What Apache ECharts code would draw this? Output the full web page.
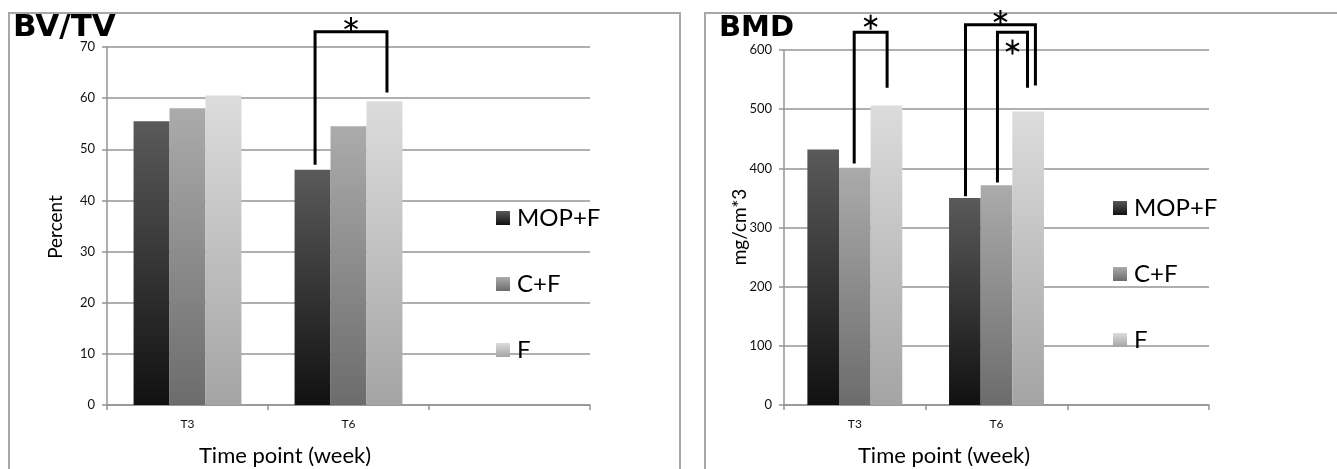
<!DOCTYPE html>
<html>
<head>
<meta charset="utf-8">
<script src="https://cdn.jsdelivr.net/npm/echarts@6/dist/echarts.min.js"></script>
<style>
html,body{margin:0;padding:0;background:#fff;}
#chart{width:1337px;height:469px;}
</style>
</head>
<body>
<div id="chart"></div>
<script>
// ---- data ----
const categories = ['T3', 'T6', ''];
const groupNames = ['MOP+F', 'C+F', 'F'];
const bvtvMOPF = [55.5, 46.0];
const bvtvCF = [58.0, 54.5];
const bvtvF = [60.5, 59.4];
const bmdMOPF = [432, 350];
const bmdCF = [401, 371.5];
const bmdF = [506, 496];
const bvtvTicks = [0, 70, 10];
const bmdTicks = [0, 600, 100];
// brackets: [category, left bar index, right bar index, left foot value, right foot value, top value, star value]
const bvtvBrackets = [[1, 0.07, 2.07, 47, 61.1, 73, 74.4]];
const bmdBrackets = [
  [0, 0.98, 2.02, 408, 536, 630, 647],
  [1, 0.02, 2.23, 353, 540, 642.5, 655],
  [1, 1.03, 1.98, 376, 536, 630, 605]
];

// ---- styling ----
const GAP = 0.33;
const FONT = 'Lato, "Open Sans", sans-serif';
function grad(top, bottom) {
  return {type: 'linear', x: 0, y: 0, x2: 0, y2: 1,
    colorStops: [{offset: 0, color: top}, {offset: 1, color: bottom}]};
}
const colors = [grad('#5a5a5a', '#111111'), grad('#ababab', '#6c6c6c'), grad('#dcdcdc', '#a4a4a4')];

function bracketRender(params, api) {
  const cat = api.value(0);
  const c = api.coord([cat, 0]);
  const catW = api.size([1, 0])[0];
  const bw = catW * (1 - GAP) / 3;
  const xL = c[0] + (api.value(1) - 1) * bw;
  const xR = c[0] + (api.value(2) - 1) * bw;
  const yL = api.coord([cat, api.value(3)])[1];
  const yR = api.coord([cat, api.value(4)])[1];
  const yT = api.coord([cat, api.value(5)])[1];
  const sy = api.coord([cat, api.value(6)])[1];
  const sx = (xL + xR) / 2;
  const r = 7.5;
  const starLines = [90, 30, 150].map(function (deg) {
    const a = deg * Math.PI / 180;
    return {type: 'line', shape: {x1: sx - r * Math.cos(a), y1: sy - r * Math.sin(a), x2: sx + r * Math.cos(a), y2: sy + r * Math.sin(a)},
      style: {stroke: '#000', lineWidth: 2}};
  });
  return {type: 'group', children: [
    {type: 'polyline', shape: {points: [[xL, yL], [xL, yT], [xR, yT], [xR, yR]]},
     style: {stroke: '#000', lineWidth: 3, fill: null, lineJoin: 'miter'}}
  ].concat(starLines)};
}

function xAxisCfg(gi) {
  return {type: 'category', gridIndex: gi, data: categories, boundaryGap: true,
    axisLine: {show: true, lineStyle: {color: '#949494', width: 1.5}},
    axisTick: {show: true, length: 5, alignWithLabel: false, lineStyle: {color: '#949494', width: 1.5}},
    axisLabel: {margin: 13, fontSize: 12, color: '#111', fontFamily: FONT},
    splitLine: {show: false}};
}
function yAxisCfg(gi, t) {
  return {type: 'value', gridIndex: gi, min: t[0], max: t[1], interval: t[2],
    axisLine: {show: true, lineStyle: {color: '#949494', width: 1.5}},
    axisTick: {show: true, length: 5, lineStyle: {color: '#949494', width: 1.5}},
    axisLabel: {margin: 12, fontSize: 13, color: '#111', fontFamily: FONT},
    splitLine: {show: true, lineStyle: {color: '#949494', width: 1.5}}};
}
function barSeries(name, data, gi, idx) {
  return {type: 'bar', name: name, data: data, xAxisIndex: gi, yAxisIndex: gi,
    barGap: '0%', barCategoryGap: (GAP * 100) + '%',
    itemStyle: {color: colors[idx]}, emphasis: {disabled: true}};
}
function legendCfg(left, top) {
  return {data: groupNames, orient: 'vertical', left: left, top: top, itemWidth: 14, itemHeight: 14,
    itemGap: 42, selectedMode: false, icon: 'rect',
    textStyle: {fontSize: 24, lineHeight: 24, color: '#000', fontFamily: FONT, padding: [0, 0, 0, 2]}};
}
function textG(text, x, y, size, opts) {
  return Object.assign({type: 'text', x: x, y: y, silent: true,
    style: {text: text, fill: '#000', font: (opts && opts.weight ? opts.weight + ' ' : '') + size + 'px ' + ((opts && opts.family) || FONT),
      align: (opts && opts.align) || 'center', verticalAlign: 'middle'}}, opts && opts.rotation ? {rotation: opts.rotation} : {});
}

const chart = echarts.init(document.getElementById('chart'), null, {renderer: 'canvas'});
chart.setOption({
  animation: false,
  backgroundColor: '#fff',
  grid: [
    {left: 107, top: 47, width: 483, height: 358},
    {left: 784, top: 50, width: 425, height: 355}
  ],
  xAxis: [xAxisCfg(0), xAxisCfg(1)],
  yAxis: [yAxisCfg(0, bvtvTicks), yAxisCfg(1, bmdTicks)],
  legend: [legendCfg(491, 201), legendCfg(1108, 191)],
  graphic: [
    {type: 'rect', silent: true, shape: {x: 9, y: 13, width: 671, height: 520}, style: {fill: null, stroke: '#a8a8a8', lineWidth: 2}},
    {type: 'rect', silent: true, shape: {x: 705, y: 13, width: 700, height: 520}, style: {fill: null, stroke: '#a8a8a8', lineWidth: 2}},
    textG('BV/TV', 13, 28, 31, {weight: 'bold', family: '"DejaVu Sans"', align: 'left'}),
    textG('BMD', 719, 28, 29, {weight: 'bold', family: '"DejaVu Sans"', align: 'left'}),
    textG('Percent', 56, 227, 19, {rotation: Math.PI / 2}),
    textG('mg/cm*3', 740, 227, 19, {rotation: Math.PI / 2}),
    textG('Time point (week)', 285, 456, 22),
    textG('Time point (week)', 944, 456, 22)
  ],
  series: [
    barSeries(groupNames[0], bvtvMOPF, 0, 0),
    barSeries(groupNames[1], bvtvCF, 0, 1),
    barSeries(groupNames[2], bvtvF, 0, 2),
    barSeries(groupNames[0], bmdMOPF, 1, 0),
    barSeries(groupNames[1], bmdCF, 1, 1),
    barSeries(groupNames[2], bmdF, 1, 2),
    {type: 'custom', name: 'sig1', xAxisIndex: 0, yAxisIndex: 0, clip: false, z: 5, silent: true,
     renderItem: bracketRender, data: bvtvBrackets, encode: {x: 0, y: [3, 4]}},
    {type: 'custom', name: 'sig2', xAxisIndex: 1, yAxisIndex: 1, clip: false, z: 5, silent: true,
     renderItem: bracketRender, data: bmdBrackets, encode: {x: 0, y: [3, 4]}}
  ]
});
</script>
</body>
</html>
